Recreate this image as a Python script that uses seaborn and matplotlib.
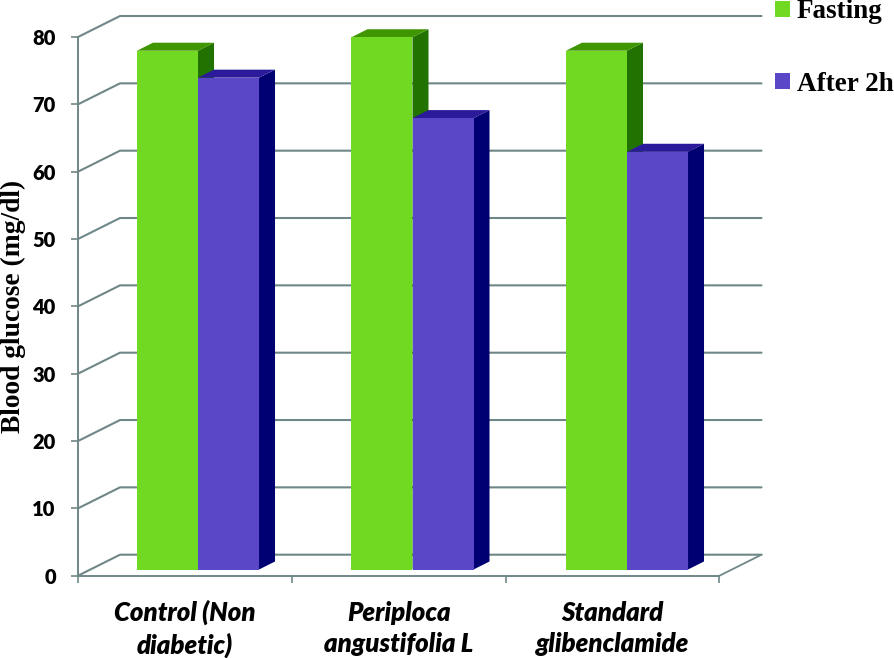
import pandas as pd
import matplotlib
matplotlib.use("Agg")
import matplotlib.pyplot as plt
from matplotlib.patches import Polygon
import seaborn as sns

treatments = ["Control (Non\ndiabetic)", "Periploca\nangustifolia L", "Standard\nglibenclamide"]
fasting = [77, 79, 77]
after_2h = [73, 67, 62]
y_ticks = [0, 10, 20, 30, 40, 50, 60, 70, 80]

W, H = 894, 658
GRID = "#6f8787"
COLORS = {"Fasting": "#72d922", "After 2h": "#5a47c8"}
SIDES = {"Fasting": "#217200", "After 2h": "#000072"}
TOPS = {"Fasting": "#3f9600", "After 2h": "#2b1a99"}


def px_axes(fig, left, right, top, bottom):
    return fig.add_axes([left / W, 1 - bottom / H, (right - left) / W, (bottom - top) / H])


df = pd.DataFrame({"treatment": treatments, "Fasting": fasting, "After 2h": after_2h})
df = df.melt(id_vars="treatment", var_name="time", value_name="glucose")

sns.set_style("white")
fig = plt.figure(figsize=(W / 100, H / 100), dpi=100)

# front plane of the fake 3d box, carries the axes and labels
ax = px_axes(fig, 78, 719.5, 37, 575.7)
ax.set_xlim(-0.5, 2.5)
ax.set_ylim(0, 80)
ax.set_yticks(y_ticks)
ax.set_xticks([-0.5, 0.5, 1.5, 2.5], minor=False)
ax.set_xticklabels([])
for name in ["top", "right"]:
    ax.spines[name].set_visible(False)
for name in ["left", "bottom"]:
    ax.spines[name].set_color(GRID)
    ax.spines[name].set_linewidth(1.4)
ax.tick_params(axis="both", length=5, width=1.2, color=GRID, left=True, bottom=True)
ax.tick_params(axis="y", pad=11, labelcolor="black")
for lab in ax.get_yticklabels():
    lab.set_fontfamily("Lato")
    lab.set_fontweight("heavy")
    lab.set_fontsize(14.5)
ax.set_ylabel("Blood glucose (mg/dl)", family="Liberation Serif", fontweight="bold",
              fontsize=19.8, color="black", va="center")
ax.yaxis.set_label_coords((13 - 78) / (719.5 - 78), 0.5)

# wall lines
wall_dx = 42 / 213.8
wall_dy = 21 / 6.734
for v in y_ticks:
    ax.plot([-0.5, -0.5 + wall_dx, 2.5 + wall_dx], [v, v + wall_dy, v + wall_dy],
            color=GRID, lw=1.5, clip_on=False, zorder=1)
ax.plot([2.5, 2.5 + wall_dx], [0, wall_dy], color=GRID, lw=1.3, clip_on=False, zorder=1)

for i, label in enumerate(treatments):
    ax.text(i, -7.9, label, ha="center", va="center", family="Lato", style="italic",
            fontweight="heavy", fontsize=18.5, linespacing=1.35, color="black", clip_on=False)

# bars sit a little inside the box so they get their own axes
bar_ax = px_axes(fig, 90.75, 734.25, 30.5, 569.5)
bar_ax.patch.set_alpha(0)
sns.barplot(data=df, x="treatment", y="glucose", hue="time", order=treatments,
            hue_order=list(COLORS), palette=COLORS, saturation=1, width=0.569,
            legend=True, ax=bar_ax, zorder=2, linewidth=0)
bar_ax.set_xlim(-0.5, 2.5)
bar_ax.set_ylim(0, 80)
bar_ax.axis("off")

side_dx = 16 / 214.5
side_dy = 8 / 6.734
for container, name, z in zip(bar_ax.containers, COLORS, [1, 1.5]):
    for bar in container:
        x0, x1 = bar.get_x(), bar.get_x() + bar.get_width()
        h = bar.get_height()
        side = [(x1, 0), (x1 + side_dx, side_dy), (x1 + side_dx, h + side_dy), (x1, h)]
        top = [(x0, h), (x0 + side_dx, h + side_dy), (x1 + side_dx, h + side_dy), (x1, h)]
        bar_ax.add_patch(Polygon(side, fc=SIDES[name], ec="none", zorder=z, clip_on=False))
        bar_ax.add_patch(Polygon(top, fc=TOPS[name], ec="none", zorder=z, clip_on=False))

fs = 19.5
handles, labels = bar_ax.get_legend_handles_labels()
leg = bar_ax.legend(handles, labels, loc="upper left", bbox_to_anchor=(775 / W, 1 + 0.5 / H),
                    bbox_transform=fig.transFigure, frameon=False, borderpad=0, borderaxespad=0,
                    handlelength=0.55, handleheight=0.55, handletextpad=0.25, labelspacing=1.75,
                    prop={"family": "Liberation Serif", "weight": "bold", "size": fs})
for t in leg.get_texts():
    t.set_color("black")

fig.savefig("out.png", dpi=100)
